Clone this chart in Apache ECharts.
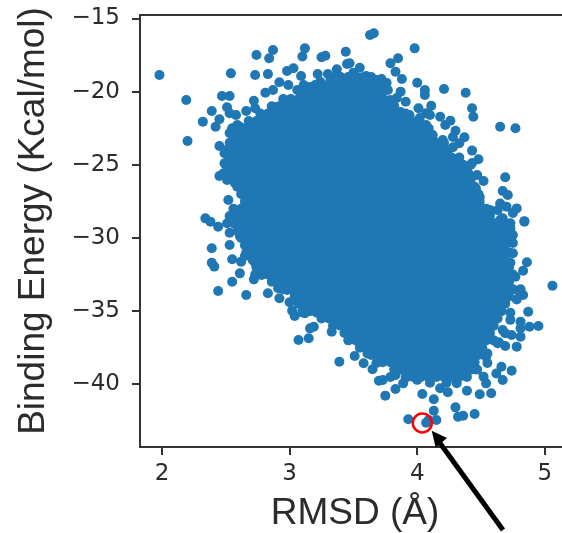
<!DOCTYPE html>
<html><head><meta charset="utf-8">
<style>html,body{margin:0;padding:0;background:#fff}#c{width:562px;height:533px}</style>
<script src="https://cdn.jsdelivr.net/npm/echarts@6/dist/echarts.min.js"></script>
</head><body><div id="c"></div>
<script>
const xTickValues = [2,3,4,5];
const yTickValues = [-15,-20,-25,-30,-35,-40];
const xTitle = 'RMSD (Å)';
const yTitle = 'Binding Energy (Kcal/mol)';
const bestPose = [[4.04,-42.65]];

const denseY = [-19,-19.5,-20,-20.5,-21,-21.5,-22,-22.5,-23,-23.5,-24,-24.5,-25,-25.5,-26,-26.5,-27,-27.5,-28,-28.5,-29,-29.5,-30,-30.5,-31,-31.5,-32,-32.5,-33,-33.5,-34,-34.5,-35,-35.5,-36,-36.5,-37,-37.5,-38,-38.5,-39,-39.5];
const denseX = [
[3.40,3.46,3.52,3.58,3.64],
[3.25,3.31,3.37,3.43,3.49,3.55,3.61,3.67,3.73],
[3.10,3.16,3.22,3.28,3.34,3.40,3.46,3.52,3.58,3.64,3.70],
[2.95,3.01,3.07,3.13,3.19,3.25,3.31,3.37,3.43,3.49,3.55,3.61,3.67,3.73],
[2.86,2.92,2.98,3.04,3.10,3.16,3.22,3.28,3.34,3.40,3.46,3.52,3.58,3.64,3.70,3.76,3.82],
[2.77,2.83,2.89,2.95,3.01,3.07,3.13,3.19,3.25,3.31,3.37,3.43,3.49,3.55,3.61,3.67,3.73,3.79,3.85,3.91],
[2.68,2.74,2.80,2.86,2.92,2.98,3.04,3.10,3.16,3.22,3.28,3.34,3.40,3.46,3.52,3.58,3.64,3.70,3.76,3.82,3.88,3.94,4.00],
[2.59,2.65,2.71,2.77,2.83,2.89,2.95,3.01,3.07,3.13,3.19,3.25,3.31,3.37,3.43,3.49,3.55,3.61,3.67,3.73,3.79,3.85,3.91,3.97,4.03,4.09],
[2.56,2.62,2.68,2.74,2.80,2.86,2.92,2.98,3.04,3.10,3.16,3.22,3.28,3.34,3.40,3.46,3.52,3.58,3.64,3.70,3.76,3.82,3.88,3.94,4.00,4.06,4.12],
[2.53,2.59,2.65,2.71,2.77,2.83,2.89,2.95,3.01,3.07,3.13,3.19,3.25,3.31,3.37,3.43,3.49,3.55,3.61,3.67,3.73,3.79,3.85,3.91,3.97,4.03,4.09,4.15,4.21],
[2.50,2.56,2.62,2.68,2.74,2.80,2.86,2.92,2.98,3.04,3.10,3.16,3.22,3.28,3.34,3.40,3.46,3.52,3.58,3.64,3.70,3.76,3.82,3.88,3.94,4.00,4.06,4.12,4.18,4.24],
[2.53,2.59,2.65,2.71,2.77,2.83,2.89,2.95,3.01,3.07,3.13,3.19,3.25,3.31,3.37,3.43,3.49,3.55,3.61,3.67,3.73,3.79,3.85,3.91,3.97,4.03,4.09,4.15,4.21,4.27,4.33],
[2.50,2.56,2.62,2.68,2.74,2.80,2.86,2.92,2.98,3.04,3.10,3.16,3.22,3.28,3.34,3.40,3.46,3.52,3.58,3.64,3.70,3.76,3.82,3.88,3.94,4.00,4.06,4.12,4.18,4.24,4.30,4.36,4.42],
[2.53,2.59,2.65,2.71,2.77,2.83,2.89,2.95,3.01,3.07,3.13,3.19,3.25,3.31,3.37,3.43,3.49,3.55,3.61,3.67,3.73,3.79,3.85,3.91,3.97,4.03,4.09,4.15,4.21,4.27,4.33,4.39],
[2.56,2.62,2.68,2.74,2.80,2.86,2.92,2.98,3.04,3.10,3.16,3.22,3.28,3.34,3.40,3.46,3.52,3.58,3.64,3.70,3.76,3.82,3.88,3.94,4.00,4.06,4.12,4.18,4.24,4.30,4.36,4.42],
[2.59,2.65,2.71,2.77,2.83,2.89,2.95,3.01,3.07,3.13,3.19,3.25,3.31,3.37,3.43,3.49,3.55,3.61,3.67,3.73,3.79,3.85,3.91,3.97,4.03,4.09,4.15,4.21,4.27,4.33,4.39,4.45],
[2.62,2.68,2.74,2.80,2.86,2.92,2.98,3.04,3.10,3.16,3.22,3.28,3.34,3.40,3.46,3.52,3.58,3.64,3.70,3.76,3.82,3.88,3.94,4.00,4.06,4.12,4.18,4.24,4.30,4.36,4.42,4.48],
[2.65,2.71,2.77,2.83,2.89,2.95,3.01,3.07,3.13,3.19,3.25,3.31,3.37,3.43,3.49,3.55,3.61,3.67,3.73,3.79,3.85,3.91,3.97,4.03,4.09,4.15,4.21,4.27,4.33,4.39,4.45],
[2.56,2.62,2.68,2.74,2.80,2.86,2.92,2.98,3.04,3.10,3.16,3.22,3.28,3.34,3.40,3.46,3.52,3.58,3.64,3.70,3.76,3.82,3.88,3.94,4.00,4.06,4.12,4.18,4.24,4.30,4.36,4.42,4.48,4.54],
[2.53,2.59,2.65,2.71,2.77,2.83,2.89,2.95,3.01,3.07,3.13,3.19,3.25,3.31,3.37,3.43,3.49,3.55,3.61,3.67,3.73,3.79,3.85,3.91,3.97,4.03,4.09,4.15,4.21,4.27,4.33,4.39,4.45,4.51,4.57],
[2.56,2.62,2.68,2.74,2.80,2.86,2.92,2.98,3.04,3.10,3.16,3.22,3.28,3.34,3.40,3.46,3.52,3.58,3.64,3.70,3.76,3.82,3.88,3.94,4.00,4.06,4.12,4.18,4.24,4.30,4.36,4.42,4.48,4.54,4.60,4.66],
[2.59,2.65,2.71,2.77,2.83,2.89,2.95,3.01,3.07,3.13,3.19,3.25,3.31,3.37,3.43,3.49,3.55,3.61,3.67,3.73,3.79,3.85,3.91,3.97,4.03,4.09,4.15,4.21,4.27,4.33,4.39,4.45,4.51,4.57,4.63,4.69],
[2.62,2.68,2.74,2.80,2.86,2.92,2.98,3.04,3.10,3.16,3.22,3.28,3.34,3.40,3.46,3.52,3.58,3.64,3.70,3.76,3.82,3.88,3.94,4.00,4.06,4.12,4.18,4.24,4.30,4.36,4.42,4.48,4.54,4.60,4.66,4.72],
[2.65,2.71,2.77,2.83,2.89,2.95,3.01,3.07,3.13,3.19,3.25,3.31,3.37,3.43,3.49,3.55,3.61,3.67,3.73,3.79,3.85,3.91,3.97,4.03,4.09,4.15,4.21,4.27,4.33,4.39,4.45,4.51,4.57,4.63,4.69],
[2.68,2.74,2.80,2.86,2.92,2.98,3.04,3.10,3.16,3.22,3.28,3.34,3.40,3.46,3.52,3.58,3.64,3.70,3.76,3.82,3.88,3.94,4.00,4.06,4.12,4.18,4.24,4.30,4.36,4.42,4.48,4.54,4.60,4.66,4.72],
[2.71,2.77,2.83,2.89,2.95,3.01,3.07,3.13,3.19,3.25,3.31,3.37,3.43,3.49,3.55,3.61,3.67,3.73,3.79,3.85,3.91,3.97,4.03,4.09,4.15,4.21,4.27,4.33,4.39,4.45,4.51,4.57,4.63,4.69],
[2.74,2.80,2.86,2.92,2.98,3.04,3.10,3.16,3.22,3.28,3.34,3.40,3.46,3.52,3.58,3.64,3.70,3.76,3.82,3.88,3.94,4.00,4.06,4.12,4.18,4.24,4.30,4.36,4.42,4.48,4.54,4.60,4.66,4.72],
[2.83,2.89,2.95,3.01,3.07,3.13,3.19,3.25,3.31,3.37,3.43,3.49,3.55,3.61,3.67,3.73,3.79,3.85,3.91,3.97,4.03,4.09,4.15,4.21,4.27,4.33,4.39,4.45,4.51,4.57,4.63,4.69,4.75],
[2.86,2.92,2.98,3.04,3.10,3.16,3.22,3.28,3.34,3.40,3.46,3.52,3.58,3.64,3.70,3.76,3.82,3.88,3.94,4.00,4.06,4.12,4.18,4.24,4.30,4.36,4.42,4.48,4.54,4.60,4.66,4.72],
[2.95,3.01,3.07,3.13,3.19,3.25,3.31,3.37,3.43,3.49,3.55,3.61,3.67,3.73,3.79,3.85,3.91,3.97,4.03,4.09,4.15,4.21,4.27,4.33,4.39,4.45,4.51,4.57,4.63,4.69,4.75],
[3.04,3.10,3.16,3.22,3.28,3.34,3.40,3.46,3.52,3.58,3.64,3.70,3.76,3.82,3.88,3.94,4.00,4.06,4.12,4.18,4.24,4.30,4.36,4.42,4.48,4.54,4.60,4.66,4.72],
[3.07,3.13,3.19,3.25,3.31,3.37,3.43,3.49,3.55,3.61,3.67,3.73,3.79,3.85,3.91,3.97,4.03,4.09,4.15,4.21,4.27,4.33,4.39,4.45,4.51,4.57,4.63,4.69],
[3.10,3.16,3.22,3.28,3.34,3.40,3.46,3.52,3.58,3.64,3.70,3.76,3.82,3.88,3.94,4.00,4.06,4.12,4.18,4.24,4.30,4.36,4.42,4.48,4.54,4.60,4.66],
[3.25,3.31,3.37,3.43,3.49,3.55,3.61,3.67,3.73,3.79,3.85,3.91,3.97,4.03,4.09,4.15,4.21,4.27,4.33,4.39,4.45,4.51,4.57,4.63],
[3.34,3.40,3.46,3.52,3.58,3.64,3.70,3.76,3.82,3.88,3.94,4.00,4.06,4.12,4.18,4.24,4.30,4.36,4.42,4.48,4.54,4.60],
[3.43,3.49,3.55,3.61,3.67,3.73,3.79,3.85,3.91,3.97,4.03,4.09,4.15,4.21,4.27,4.33,4.39,4.45,4.51,4.57],
[3.46,3.52,3.58,3.64,3.70,3.76,3.82,3.88,3.94,4.00,4.06,4.12,4.18,4.24,4.30,4.36,4.42,4.48,4.54,4.60],
[3.55,3.61,3.67,3.73,3.79,3.85,3.91,3.97,4.03,4.09,4.15,4.21,4.27,4.33,4.39,4.45,4.51],
[3.64,3.70,3.76,3.82,3.88,3.94,4.00,4.06,4.12,4.18,4.24,4.30,4.36,4.42,4.48],
[3.73,3.79,3.85,3.91,3.97,4.03,4.09,4.15,4.21,4.27,4.33,4.39,4.45],
[3.82,3.88,3.94,4.00,4.06,4.12,4.18,4.24,4.30,4.36,4.42],
[3.91,3.97,4.03,4.09,4.15,4.21,4.27,4.33]
];

const fringePoints = [
[1.98,-18.86],[2.54,-18.75],[2.74,-17.5],[2.87,-17.15],[2.84,-17.72],[2.73,-18.86],[2.83,-18.8],[3.12,-17.04],[3.10,-17.6],[3.25,-17.65],[3.28,-17.54],[3.44,-17.27],[3.45,-18.11],
[2.19,-20.57],[2.20,-23.37],[2.32,-22.05],[2.39,-21.32],[2.47,-20.3],[2.53,-20.3],[2.51,-21.07],[2.45,-21.89],[2.42,-22.4],[2.53,-21.48],[2.58,-21.6],[2.66,-21.32],[2.73,-21.14],[2.72,-20.62],[2.81,-20.07],[2.87,-19.89],[2.92,-19.36],[2.98,-18.59],[3.03,-18.4],[2.99,-19.55],[3.09,-18.93],[3.11,-19.55],[3.22,-18.79],[3.30,-18.79],[3.37,-18.47],[3.24,-19.32],[3.20,-19.55],
[2.55,-22.5],[2.59,-22.28],[2.69,-22.4],[2.78,-21.99],[2.64,-22.74],[2.45,-23.72],[2.49,-24.21],[2.49,-24.9],[2.45,-25.76],[2.51,-26.04],[2.57,-26.22],[2.58,-25.22],[2.52,-27.4],[2.66,-26.84],[2.55,-28.5],[2.34,-28.66],[2.38,-28.89],[2.44,-29.23],
[2.53,-29.64],[2.61,-29.87],[2.39,-30.71],[2.53,-30.48],[2.55,-31.46],[2.39,-31.69],[2.41,-31.96],[2.62,-31.62],[2.65,-31.23],[2.61,-32.42],[2.55,-32.99],[2.44,-33.63],[2.66,-33.9],[2.83,-33.78],[2.72,-32.83],[2.78,-32.53],[2.86,-32.19],[2.91,-33.44],[2.92,-34.12],[3.02,-34.97],[3.04,-35.33],[3.12,-35.15],[3.29,-35.42],[3.19,-36.07],[3.16,-36.18],[3.15,-36.86],[3.07,-36.97],[3.33,-36.41],[3.39,-38.46],[3.46,-36.52],
[3.51,-38.07],[3.58,-38.57],[3.65,-38.98],[3.70,-39.76],[3.73,-39.71],[3.75,-40.78],[3.83,-40.33],[3.83,-39.37],[3.89,-39.94],[4.04,-40.67],[4.13,-41.03],[4.13,-41.81],[3.93,-42.39],[4.07,-42.63],[4.09,-42.44],[4.15,-42.44],[4.30,-41.58],[4.32,-42.22],[4.36,-42.15],[4.45,-42.03],[4.49,-40.69],[4.58,-40.62],[4.39,-40.44],[4.24,-40.55],[4.31,-39.93],[4.18,-40.28],[4.54,-39.94],[4.52,-39.48],[4.67,-39.71],[4.62,-39.26],[4.66,-38.8],[4.74,-39.07],[4.54,-38.12],[4.78,-37.43],[4.69,-37.39],[4.64,-37.13],[4.81,-36.75],[4.74,-36.63],[4.69,-36.52],[4.81,-36.18],[4.88,-36.07],[4.95,-36.02],[4.81,-35.73],[4.87,-35.04],[4.73,-35.11],[5.06,-33.26],[4.83,-33.9],[4.81,-33.51],[4.83,-32.24],[4.86,-31.66],[4.75,-31.05],[4.75,-29.8],[4.73,-29.34],[4.84,-28.89],[4.65,-29.1],
[3.63,-16.13],[3.66,-16.01],[3.98,-17.04],[3.85,-17.72],[3.79,-18.06],[3.47,-18.06],[3.55,-18.36],[3.83,-18.64],[3.88,-19.14],[3.72,-19.14],[3.60,-18.93],[4.00,-19.39],[4.06,-19.89],[4.06,-20.23],[4.21,-19.82],[4.38,-20.07],[4.43,-21.14],[4.44,-21.71],[4.65,-22.4],[4.77,-22.5],[3.87,-20],[3.91,-20.69],[4.11,-20.96],[4.01,-21.14],[4.07,-21.48],[4.18,-21.71],[4.26,-21.99],[4.22,-22.28],[4.07,-22.28],[4.30,-22.67],[4.37,-23.12],[4.33,-23.53],[4.43,-24.03],[4.48,-24.62],[4.31,-24.62],[4.52,-26.11],[4.47,-25.7],[4.46,-26.61],[4.69,-25.85],[4.67,-26.79],[4.71,-27.06],[4.49,-27.52],[4.65,-27.64],[4.78,-27.98],[4.70,-27.86],[4.57,-28.09],[4.84,-28.85],[4.73,-29],[4.67,-28.66],
[3.79,-21.25],[3.87,-21.39],[3.94,-21.6],[4.02,-21.8],[4.10,-21.6],[3.98,-22.15],[4.05,-22.7],[4.12,-22.96],[4.20,-23.3],[4.28,-23.1],[4.18,-23.8],[4.28,-23.8],[4.23,-24.47],[4.39,-25.15],[4.43,-24.88],[4.40,-25.57],[4.49,-27.2],[4.55,-28.3],[4.63,-28.1],[4.75,-28.3],[4.65,-28.77],[4.70,-29.25],
[3.50,-18.7],[3.55,-19.07],[3.68,-19.2],[3.76,-19.4],[3.77,-19.89],[3.63,-19.68],[3.79,-20.57],[3.84,-20.43],[3.73,-20.43],
[2.53,-22.83],[2.61,-22.4],[2.74,-22.28],[2.82,-22.15],[2.87,-21.7],[2.90,-21.05],[3.00,-20.57],[3.06,-19.89],[3.16,-19.68],[3.32,-19.2],[3.37,-18.86],[2.53,-25.0],[2.48,-25.6],[2.61,-26.5],[2.66,-27.2],[2.59,-28.3],[2.61,-28.77],[2.51,-29.0],
[2.66,-31.0],[2.73,-31.7],[2.73,-32.5],[2.85,-32.3],[2.92,-32.65],[2.98,-33.55],[3.00,-34.4],[3.10,-35.1],[3.21,-35.1],[3.37,-35.4],[3.45,-35.8],
[3.47,-36.5],[3.55,-37.2],[3.61,-37.9],[3.68,-38.55],[3.79,-39.5],[3.92,-39.5],[4.00,-39.7],[4.10,-39.9],[4.23,-39.9],[4.39,-39.5],[4.47,-39.0],[4.55,-38.55],[4.55,-37.9],[4.63,-37.2],[4.67,-36.3],[4.73,-35.6],[4.78,-34.2],[4.80,-33.7],[4.77,-32.65],[4.73,-31.7],[4.75,-30.35]
];

const points = fringePoints.slice();
denseY.forEach((y,i)=>denseX[i].forEach(x=>points.push([x,y])));

const ink = '#2b2b2b';
const fmt = v => String(v).replace('-','\u2212');
const chart = echarts.init(document.getElementById('c'),null,{renderer:'canvas'});
chart.setOption({
  animation:false,
  backgroundColor:'#fff',
  grid:{left:140,top:15,width:430,height:432,show:true,borderColor:'#333',borderWidth:2,backgroundColor:'transparent',containLabel:false,outerBoundsMode:'none'},
  xAxis:{type:'value',min:1.8276,max:5.1975,
    name:xTitle,nameLocation:'middle',nameGap:48,
    nameTextStyle:{fontFamily:'Liberation Sans',fontSize:37,color:ink},
    splitLine:{show:false},
    axisLine:{show:true,onZero:false,lineStyle:{color:'#333',width:2}},
    axisTick:{show:true,length:8,customValues:xTickValues,lineStyle:{color:'#333',width:2}},
    axisLabel:{fontFamily:'DejaVu Sans',fontSize:23,color:ink,margin:16,customValues:xTickValues,formatter:fmt}},
  yAxis:{type:'value',min:-44.29,max:-14.76,
    name:yTitle,nameLocation:'middle',nameGap:88,
    nameTextStyle:{fontFamily:'Liberation Sans',fontSize:37,color:ink,padding:[0,0,0,20]},
    splitLine:{show:false},
    axisLine:{show:true,onZero:false,lineStyle:{color:'#333',width:2}},
    axisTick:{show:true,length:8,customValues:yTickValues,lineStyle:{color:'#333',width:2}},
    axisLabel:{fontFamily:'DejaVu Sans',fontSize:23,color:ink,margin:20,customValues:yTickValues,formatter:fmt}},
  series:[
    {type:'scatter',data:points,symbol:'circle',symbolSize:10,itemStyle:{color:'#1f77b4',opacity:1},progressive:0,silent:true,z:2},
    {type:'scatter',data:bestPose,symbol:'circle',symbolSize:19,itemStyle:{color:'rgba(0,0,0,0)',borderColor:'#f00',borderWidth:2.5,opacity:1},silent:true,z:3}
  ],
  graphic:[
    {type:'line',shape:{x1:503,y1:530,x2:437,y2:439},style:{stroke:'#000',lineWidth:5},z:10},
    {type:'polygon',shape:{points:[[431.7,430.7],[447,438],[435.7,447.7]]},style:{fill:'#000'},z:10}
  ]
});
</script></body></html>
